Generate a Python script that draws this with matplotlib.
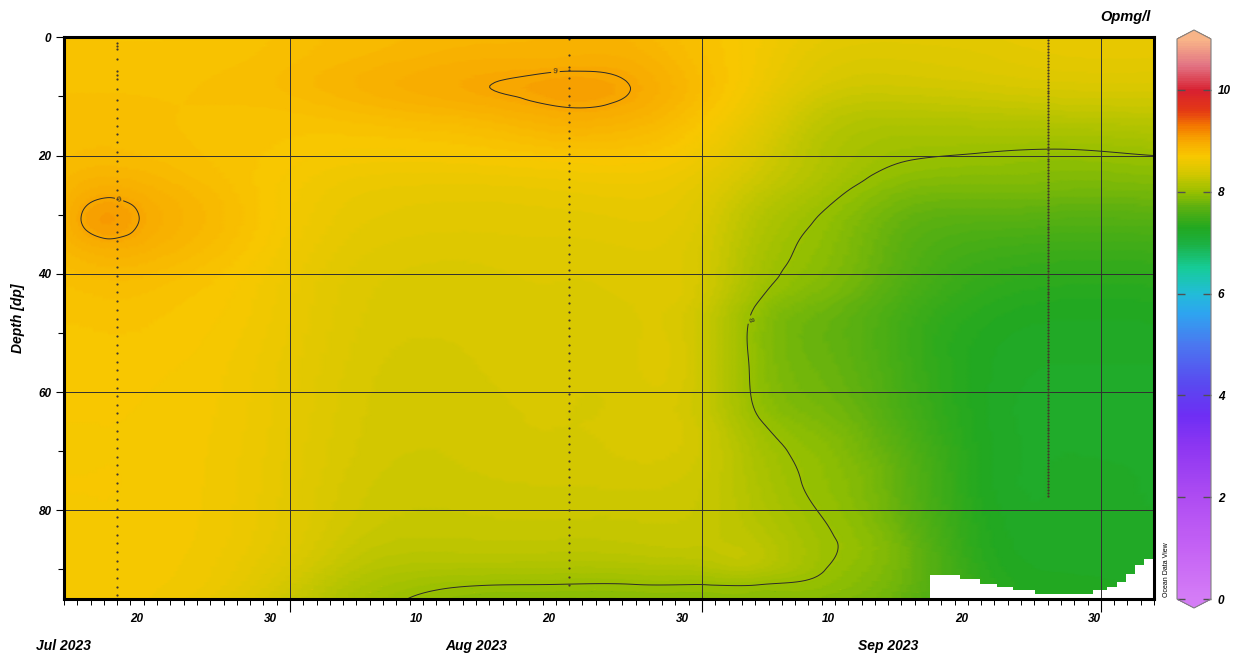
import numpy as np
import pandas as pd
import matplotlib
matplotlib.use("Agg")
import matplotlib.pyplot as plt
import matplotlib.dates as mdates
import matplotlib.tri as mtri
from matplotlib.colors import LinearSegmentedColormap, Normalize
from matplotlib.cm import ScalarMappable

plt.rcParams['font.family'] = ['Liberation Sans', 'DejaVu Sans']

# gridded section (rows = dates, columns = depths)
grid_dates = ["2023-07-15", "2023-07-17", "2023-07-19", "2023-07-22", "2023-07-26",
              "2023-08-01", "2023-08-08", "2023-08-15", "2023-08-21", "2023-08-27",
              "2023-09-01", "2023-09-05", "2023-09-10", "2023-09-16", "2023-09-22",
              "2023-09-27", "2023-10-05"]
grid_depths = [0, 4, 8.5, 13, 20, 25, 31, 37, 45, 55, 65, 75, 85, 90, 93, 95]

oxygen = [
    [8.72, 8.74, 8.76, 8.78, 8.80, 8.85, 8.90, 8.83, 8.74, 8.70, 8.68, 8.68, 8.67, 8.66, 8.66, 8.66],
    [8.72, 8.74, 8.76, 8.78, 8.82, 8.92, 9.04, 8.88, 8.75, 8.70, 8.68, 8.68, 8.67, 8.66, 8.66, 8.66],
    [8.72, 8.74, 8.76, 8.78, 8.82, 8.93, 9.06, 8.90, 8.76, 8.70, 8.68, 8.68, 8.67, 8.66, 8.66, 8.66],
    [8.72, 8.74, 8.76, 8.77, 8.80, 8.88, 8.95, 8.86, 8.74, 8.69, 8.67, 8.67, 8.66, 8.65, 8.64, 8.63],
    [8.73, 8.75, 8.77, 8.76, 8.76, 8.80, 8.84, 8.78, 8.70, 8.66, 8.64, 8.63, 8.62, 8.60, 8.58, 8.55],
    [8.78, 8.80, 8.82, 8.76, 8.70, 8.66, 8.64, 8.60, 8.56, 8.53, 8.51, 8.49, 8.46, 8.40, 8.34, 8.30],
    [8.84, 8.88, 8.92, 8.82, 8.66, 8.56, 8.50, 8.45, 8.41, 8.38, 8.36, 8.33, 8.26, 8.16, 8.08, 8.04],
    [8.88, 8.94, 8.99, 8.88, 8.68, 8.55, 8.48, 8.43, 8.40, 8.38, 8.36, 8.33, 8.25, 8.12, 7.99, 7.92],
    [8.90, 8.95, 9.04, 8.96, 8.72, 8.57, 8.49, 8.44, 8.41, 8.39, 8.38, 8.34, 8.25, 8.11, 7.98, 7.90],
    [8.88, 8.93, 8.99, 8.92, 8.72, 8.59, 8.51, 8.46, 8.43, 8.42, 8.40, 8.35, 8.26, 8.12, 7.98, 7.91],
    [8.76, 8.78, 8.80, 8.74, 8.60, 8.49, 8.41, 8.37, 8.33, 8.31, 8.31, 8.30, 8.26, 8.14, 7.98, 7.92],
    [8.65, 8.64, 8.61, 8.53, 8.40, 8.30, 8.18, 8.12, 8.01, 7.96, 8.03, 8.13, 8.21, 8.17, 7.98, 7.93],
    [8.52, 8.46, 8.38, 8.26, 8.16, 8.10, 7.98, 7.93, 7.81, 7.76, 7.86, 7.96, 8.03, 8.01, 7.95, 7.90],
    [8.48, 8.42, 8.33, 8.18, 8.02, 7.90, 7.74, 7.67, 7.56, 7.52, 7.59, 7.70, 7.79, 7.80, 7.77, 7.74],
    [8.50, 8.45, 8.36, 8.20, 7.99, 7.86, 7.66, 7.50, 7.36, 7.28, 7.28, 7.30, 7.34, 7.38, 7.40, 7.40],
    [8.54, 8.49, 8.39, 8.22, 7.97, 7.85, 7.64, 7.46, 7.30, 7.22, 7.20, 7.22, 7.24, 7.26, 7.28, 7.28],
    [8.55, 8.50, 8.40, 8.24, 8.00, 7.86, 7.64, 7.46, 7.30, 7.22, 7.20, 7.21, 7.23, 7.25, 7.26, 7.26],
]

# blanked area at the bottom right (no data below these depths)
mask_dates = ["2023-09-18 03:00", "2023-09-20 10:00", "2023-09-21 22:00", "2023-09-23 05:00",
              "2023-09-24 10:00", "2023-09-26 02:00", "2023-09-30 10:00", "2023-10-01 12:00",
              "2023-10-02 05:00", "2023-10-02 22:00", "2023-10-03 14:00", "2023-10-04 06:00",
              "2023-10-05 00:00"]
mask_depths = [91.0, 91.6, 92.4, 93.0, 93.5, 94.1, 93.5, 93.0, 92.1, 90.7, 89.3, 88.2, 88.2]

# stations and their sample depths
station_dates = ["2023-07-19", "2023-08-22", "2023-09-27"]
stn1_depths = [0.9, 1.5, 2.0, 3.7, 5.7, 6.4, 7.1, 8.8, 10.6, 12.2, 13.6, 15.0, 16.4, 17.7, 19.4,
               20.9, 22.6, 24.3, 25.8, 27.4, 28.6, 30.0, 31.5, 33.0, 34.4, 35.8, 37.4, 38.9, 40.3,
               41.7, 43.1, 44.6, 46.1, 47.6, 49.0, 50.5, 52.0, 53.4, 54.9, 56.3, 57.8, 59.3, 60.7,
               62.2, 63.6, 65.1, 66.6, 68.0, 69.5, 71.0, 72.4, 73.9, 75.3, 76.8, 78.3, 79.7, 81.2,
               82.7, 84.1, 85.6, 87.0, 88.5, 90.0, 91.4, 92.9, 94.3]
stn2_depths = [0.3, 3.0, 5.0, 5.6, 6.8, 8.6, 10.0, 11.4, 12.8, 14.4, 15.8, 17.0, 18.4, 19.8, 21.2,
               22.6, 24.0, 25.4, 26.8, 28.2, 29.6, 31.0, 32.4, 33.8, 35.2, 36.6, 38.0, 39.4, 40.8,
               42.2, 43.6, 45.0, 46.4, 47.8, 49.2, 50.6, 52.0, 53.4, 54.8, 56.2, 57.6, 59.0, 60.4,
               61.8, 63.2, 64.6, 66.0, 67.4, 68.8, 70.2, 71.6, 73.0, 74.4, 75.8, 77.2, 78.6, 80.0,
               81.4, 82.8, 84.2, 85.6, 87.0, 88.4, 89.8, 91.2, 92.6]
stn3_depths = [0.0, 0.5, 1.0, 1.5, 2.0, 2.5, 3.0, 3.5, 4.0, 4.5, 5.0, 5.5, 6.0, 6.5, 7.0, 7.5,
               8.0, 8.5, 9.0, 9.5, 10.0, 10.5, 11.0, 11.5, 12.0, 12.5, 13.0, 13.5, 14.0, 14.5,
               15.0, 15.5, 16.0, 16.5, 17.0, 17.5, 18.0, 18.5, 19.0, 19.5, 20.0, 20.5, 21.0,
               21.5, 22.0, 22.5, 23.0, 23.5, 24.0, 24.5, 25.0, 25.5, 26.0, 26.5, 27.0, 27.5,
               28.0, 28.5, 29.0, 29.5, 30.0, 30.5, 31.0, 31.5, 32.0, 32.5, 33.0, 33.5, 34.0,
               34.5, 35.0, 35.5, 36.0, 36.5, 37.0, 37.5, 38.0, 38.5, 39.0, 39.5, 40.0, 40.5,
               41.0, 41.5, 42.0, 42.5, 43.0, 43.5, 44.0, 44.5, 45.0, 45.5, 46.0, 46.5, 47.0,
               47.5, 48.0, 48.5, 49.0, 49.5, 50.0, 50.5, 51.0, 51.5, 52.0, 52.5, 53.0, 53.5,
               54.0, 54.5, 55.0, 55.5, 56.0, 56.5, 57.0, 57.5, 58.0, 58.5, 59.0, 59.5, 60.0,
               60.5, 61.0, 61.5, 62.0, 62.5, 63.0, 63.5, 64.0, 64.5, 65.0, 65.5, 66.0, 66.5,
               67.0, 67.5, 68.0, 68.5, 69.0, 69.5, 70.0, 70.5, 71.0, 71.5, 72.0, 72.5, 73.0,
               73.5, 74.0, 74.5, 75.0, 75.5, 76.0, 76.5, 77.0, 77.5]

# ODV style palette
cmap_values = [0, 1, 2, 3, 3.6, 4.2, 5.0, 5.6, 6.0, 6.5, 7.0, 7.3, 7.7, 8.0, 8.4, 8.7,
               9.0, 9.3, 9.6, 10.0, 10.5, 11.0]
cmap_colors = ['#d47cf6', '#c462f4', '#ae4cf2', '#8c36f2', '#6e2ef4', '#5a48f0', '#4a78f0',
               '#2ea4f0', '#22bcd8', '#16cc98', '#1cb040', '#22a820', '#5cb010', '#98c000',
               '#d8c800', '#f8c800', '#f8aa00', '#f47800', '#e43a14', '#d82030', '#e27484',
               '#f8b488']
cbar_ticks = [0, 2, 4, 6, 8, 10]
depth_ticks = [0, 20, 40, 60, 80]
day_labels = ["2023-07-20", "2023-07-30", "2023-08-10", "2023-08-20", "2023-08-30",
              "2023-09-10", "2023-09-20", "2023-09-30"]
month_starts = ["2023-08-01", "2023-09-01", "2023-10-01"]
month_labels = ["Jul 2023", "Aug 2023", "Sep 2023"]
month_label_dates = ["2023-07-15", "2023-08-15", "2023-09-15"]

vmin, vmax = 0, 11
cmap = LinearSegmentedColormap.from_list(
    "odv", [((v - vmin) / (vmax - vmin), c) for v, c in zip(cmap_values, cmap_colors)])
cmap.set_over('#f8b488')
cmap.set_under('#d47cf6')
norm = Normalize(vmin, vmax)


def dnum(lst):
    return mdates.date2num(pd.to_datetime(lst))


x_start = dnum(["2023-07-15"])[0]
x_end = dnum(["2023-10-05"])[0]

fig = plt.figure(figsize=(12.34, 6.56), dpi=100)
ax = fig.add_axes([64 / 1234, 1 - 599 / 656, 1090 / 1234, 561.7 / 656])

# smooth field: cubic refinement of the gridded values
gx = dnum(grid_dates) - x_start
X, Y = np.meshgrid(gx, grid_depths, indexing='ij')
Z = np.array(oxygen)
tri = mtri.Triangulation(X.ravel(), Y.ravel())
interp = mtri.CubicTriInterpolator(tri, Z.ravel(), kind='min_E')
tri_f, z_f = mtri.UniformTriRefiner(tri).refine_field(Z.ravel(), triinterpolator=interp, subdiv=4)
tri_plot = mtri.Triangulation(tri_f.x + x_start, tri_f.y, tri_f.triangles)

ax.tripcolor(tri_plot, z_f, cmap=cmap, norm=norm, shading='gouraud', rasterized=True, zorder=1)
cs = ax.tricontour(tri_plot, z_f, levels=[8, 9], colors='#2a2a2a', linewidths=0.7, zorder=3)
# label spots picked like ODV does: top of each 9 ring and mid way down the 8 line
label_spots = [(dnum(["2023-07-19"])[0], 28.5), (dnum(["2023-08-21"])[0], 6.5),
               (dnum(["2023-09-05"])[0], 48)]
ax.clabel(cs, fmt='%d', fontsize=6, inline=True, inline_spacing=2, manual=label_spots)

# blank area
ax.fill_between(dnum(mask_dates), mask_depths, 100, step='post', color='white', zorder=2, lw=0)

# grid lines
for d in depth_ticks[1:]:
    ax.axhline(d, color='#303030', lw=0.7, zorder=4)
for m in dnum(month_starts):
    ax.axvline(m, color='#303030', lw=0.7, zorder=4)

# station sample dots
for sd, dep in zip(dnum(station_dates), [stn1_depths, stn2_depths, stn3_depths]):
    ax.plot([sd] * len(dep), dep, ls='none', marker='o', ms=1.6, mew=0, color='#45382a', zorder=5)

ax.set_xlim(x_start, x_end)
ax.set_ylim(95, 0)

tick_font = dict(fontsize=8.5, fontweight='bold', fontstyle='italic')

# y axis
ax.set_yticks(depth_ticks)
ax.set_yticklabels([str(d) for d in depth_ticks], **tick_font)
ax.set_yticks([10, 30, 50, 70, 90], minor=True)
ax.tick_params(axis='y', which='major', length=6, width=0.8, pad=3)
ax.tick_params(axis='y', which='minor', length=4, width=0.8)

# x axis: day ticks, month ticks
ax.xaxis.set_minor_locator(mdates.DayLocator())
ax.set_xticks(dnum(month_starts))
ax.set_xticklabels([])
ax.tick_params(axis='x', which='major', length=9, width=0.8)
ax.tick_params(axis='x', which='minor', length=4.5, width=0.7)

sec_days = ax.secondary_xaxis('bottom')
sec_days.set_xticks(dnum(day_labels) + 0.5)
sec_days.set_xticklabels([pd.Timestamp(d).strftime('%d').lstrip('0') for d in day_labels], **tick_font)
sec_days.tick_params(length=0, pad=10)
sec_days.spines['bottom'].set_visible(False)

sec_months = ax.secondary_xaxis('bottom')
sec_months.set_xticks(dnum(month_label_dates))
sec_months.set_xticklabels(month_labels, fontsize=10, fontweight='bold', fontstyle='italic')
sec_months.tick_params(length=0, pad=29)
sec_months.spines['bottom'].set_visible(False)

for s in ax.spines.values():
    s.set_linewidth(2.2)
    s.set_zorder(6)

fig.text(18 / 1234, 1 - 318 / 656, "Depth [dp]", rotation=90, ha='center', va='center',
         fontsize=10, fontweight='bold', fontstyle='italic')
fig.text(1125 / 1234, 1 - 17 / 656, "Opmg/l", ha='center', va='center',
         fontsize=10.5, fontweight='bold', fontstyle='italic')
fig.text(1166 / 1234, 1 - 570 / 656, "Ocean Data View", rotation=90, ha='center', va='center',
         fontsize=5)

# colour bar (axes box includes the two end arrows)
cax = fig.add_axes([1177 / 1234, 1 - 608 / 656, 34 / 1234, 578 / 656])
cb = fig.colorbar(ScalarMappable(norm=norm, cmap=cmap), cax=cax, extend='both', extendfrac=0.016)
cb.set_ticks(cbar_ticks)
cb.set_ticklabels([str(t) for t in cbar_ticks])
for lab in cax.get_yticklabels():
    lab.set_fontweight('bold')
    lab.set_fontstyle('italic')
    lab.set_fontsize(8.5)
cax.tick_params(direction='in', left=True, right=True, length=6, width=1, color='#505050', pad=5)
cb.outline.set_edgecolor('#808080')
cb.outline.set_linewidth(0.8)

fig.savefig("out.png", dpi=100)
